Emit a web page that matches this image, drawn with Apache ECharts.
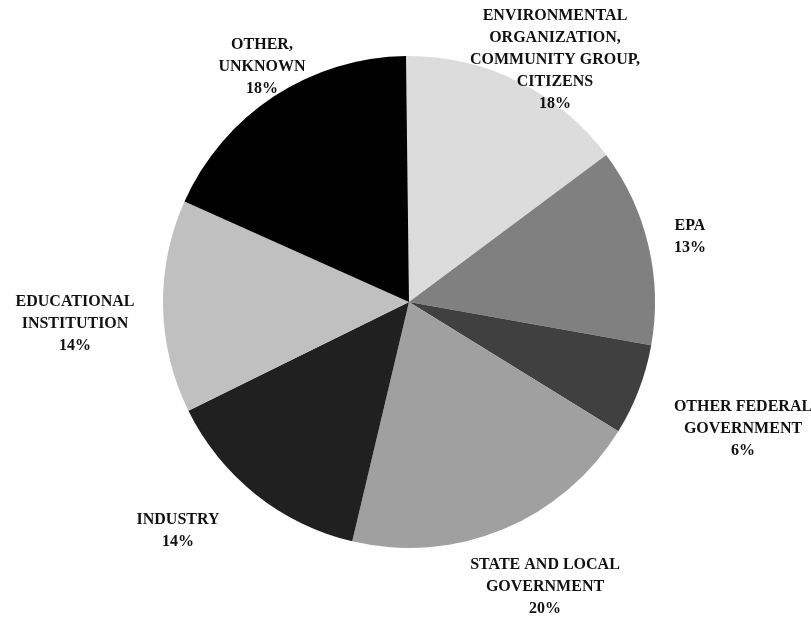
<!DOCTYPE html>
<html>
<head>
<meta charset="utf-8">
<script src="https://cdn.jsdelivr.net/npm/echarts@6/dist/echarts.min.js"></script>
<style>
html,body{margin:0;padding:0;background:#fff;}
#chart{width:811px;height:623px;}
</style>
</head>
<body>
<div id="chart"></div>
<script>
// Categories (clockwise from 12 o'clock)
var categories = [
  'ENVIRONMENTAL\nORGANIZATION,\nCOMMUNITY GROUP,\nCITIZENS',
  'EPA',
  'OTHER FEDERAL\nGOVERNMENT',
  'STATE AND LOCAL\nGOVERNMENT',
  'INDUSTRY',
  'EDUCATIONAL\nINSTITUTION',
  'OTHER,\nUNKNOWN'
];
// Slice sizes as drawn (measured from slice angles)
var sliceValues = [15.0, 13.0, 6.0, 19.9, 14.0, 14.0, 18.1];
// Percent labels as printed
var percentLabels = ['18%', '13%', '6%', '20%', '14%', '14%', '18%'];
// Slice fills
var sliceColors = ['#dcdcdc', '#808080', '#404040', '#a0a0a0', '#202020', '#c0c0c0', '#000000'];

// Layout (not data): pie centre/radius and label offsets from centre
var CX = 409, CY = 302, R = 246;
var labelOffsets = [[146, -242], [281, -65], [334, 127], [136, 285], [-231, 229], [-334, 22], [-147, -235]];

var chart = echarts.init(document.getElementById('chart'), null, {renderer: 'canvas'});
var data = categories.map(function (c, i) {
  return {name: c, value: sliceValues[i], itemStyle: {color: sliceColors[i]}};
});
chart.setOption({
  animation: false,
  backgroundColor: '#ffffff',
  series: [{
    type: 'pie',
    center: [CX, CY],
    radius: [0, R],
    startAngle: 90.7,
    clockwise: true,
    avoidLabelOverlap: false,
    data: data,
    itemStyle: {borderWidth: 0},
    emphasis: {disabled: true},
    label: {
      show: true,
      position: 'outside',
      formatter: function (p) { return p.name + '\n' + percentLabels[p.dataIndex]; },
      fontFamily: 'Liberation Serif',
      fontWeight: 'bold',
      fontSize: 16,
      lineHeight: 22,
      color: '#111111',
      align: 'center'
    },
    labelLine: {show: false},
    labelLayout: function (p) {
      var o = labelOffsets[p.dataIndex];
      return {x: CX + o[0], y: CY + o[1], align: 'center', verticalAlign: 'middle'};
    }
  }]
});
</script>
</body>
</html>
